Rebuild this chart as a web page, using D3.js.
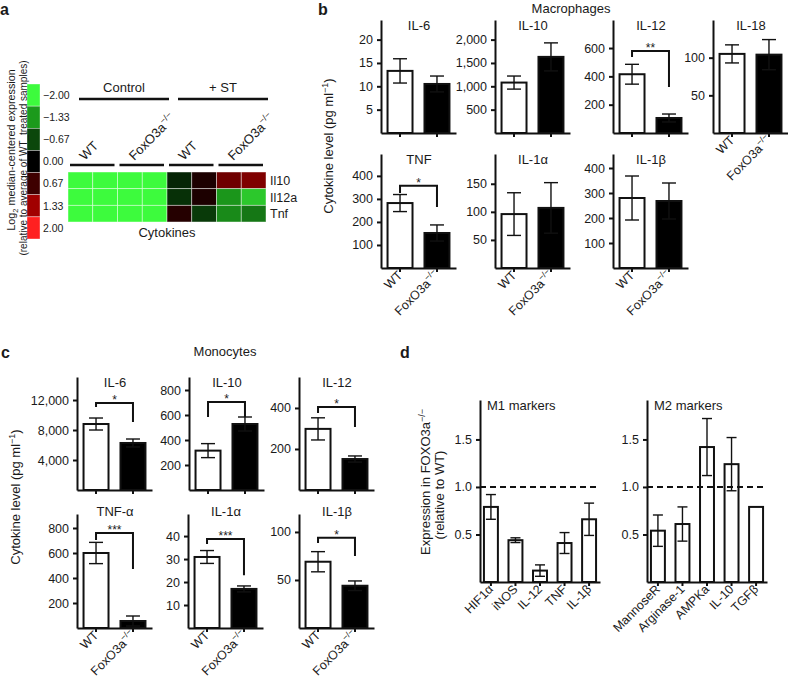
<!DOCTYPE html>
<html><head><meta charset="utf-8">
<script src="https://cdn.jsdelivr.net/npm/d3@7"></script>
<style>
body{margin:0;background:#fff}
svg{display:block}
text{font-family:"Liberation Sans",Arial,Helvetica,sans-serif;fill:#1a1a1a}
</style>
</head><body>
<svg id="chart" width="788" height="688"></svg>
<script>
// ================= DATA =================
const genotypes = ["WT", "FoxO3a"];

// Panel a: heatmap
const heatRows = ["Il10", "Il12a", "Tnf"];
const heatCols = ["ctrlWT1", "ctrlWT2", "ctrlKO1", "ctrlKO2", "stWT1", "stWT2", "stKO1", "stKO2"];
const heatIl10  = [-2, -2, -2, -2, -0.35, 0.3, 1.0, 1.1];
const heatIl12a = [-2, -2, -2, -2, -0.45, 0.3, -1.3, -1.65];
const heatTnf   = [-2, -2, -2, -2, 0.4, -0.55, -1.2, -1.05];
const heatGroupLabels = ["WT", "FoxO3a", "WT", "FoxO3a"];
const heatTreatments = ["Control", "+ ST"];
const legendValues = [-2.00, -1.33, -0.67, 0.00, 0.67, 1.33, 2.00];
const legendLabels = ["\u22122.00", "\u22121.33", "\u22120.67", "0.00", "0.67", "1.33", "2.00"];
const legendColors = ["#3dfb3d", "#1c9a1c", "#0b470b", "#000000", "#3e0000", "#a10000", "#ff2020"];

// Panel b: macrophages
const macroNames  = ["IL-6", "IL-10", "IL-12", "IL-18", "TNF", "IL-1\u03b1", "IL-1\u03b2"];
const macroWT     = [13.3, 1080, 415, 105, 282, 96, 280];
const macroWTErr  = [2.6, 140, 70, 12, 37, 38, 88];
const macroKO     = [10.5, 1630, 106, 104, 152, 107, 268];
const macroKOErr  = [1.7, 300, 28, 20, 35, 45, 72];
const macroMax    = [24.2, 2420, 798, 150, 495, 203, 456];
const macroTicks  = [[5, 10, 15, 20], [500, 1000, 1500, 2000], [200, 400, 600], [50, 100], [100, 200, 300, 400], [50, 100, 150], [100, 200, 300, 400]];
const macroSig      = ["", "", "**", "", "*", "", ""];
const macroSigLevel = [0, 0, 579, 0, 357, 0, 0];
const macroSigLeft  = [0, 0, 536, 0, 326, 0, 0];
const macroSigRight = [0, 0, 325, 0, 265, 0, 0];

// Panel c: monocytes
const monoNames  = ["IL-6", "IL-10", "IL-12", "TNF-\u03b1", "IL-1\u03b1", "IL-1\u03b2"];
const monoWT     = [8800, 315, 298, 600, 30.9, 69];
const monoWTErr  = [800, 56, 54, 85, 2.8, 10.5];
const monoKO     = [6270, 528, 151, 56, 17, 44];
const monoKOErr  = [530, 56, 15, 40, 1.3, 5];
const monoMax    = [15070, 904, 551, 912, 49.6, 118.7];
const monoTicks  = [[4000, 8000, 12000], [200, 400, 600, 800], [200, 400], [200, 400, 600, 800], [10, 20, 30, 40], [50, 100]];
const monoSig      = ["*", "*", "*", "***", "***", "*"];
const monoSigLevel = [11600, 704, 405, 760, 38.7, 94];
const monoSigLeft  = [11070, 584, 375, 704, 36.5, 88.5];
const monoSigRight = [9070, 584, 307, 472, 23, 75];

// Panel d: markers
const m1Markers = ["HIF1\u03b1", "iNOS", "IL-12", "TNF", "IL-1\u03b2"];
const m1Values  = [0.79, 0.44, 0.12, 0.41, 0.66];
const m1Err     = [0.13, 0.025, 0.06, 0.11, 0.17];
const m2Markers = ["MannoseR", "Arginase-1", "AMPKa", "IL-10", "TGF\u03b2"];
const m2Values  = [0.54, 0.61, 1.42, 1.24, 0.79];
const m2Err     = [0.165, 0.18, 0.30, 0.28, 0];
const dTicks = [0.5, 1.0, 1.5];
const dMax = 1.915;
const dReference = 1.0;

// ================= DRAWING =================
const svg = d3.select("#chart");
const FONT = '"Liberation Sans", Arial, Helvetica, sans-serif';
const INK = "#111";

function addText(g, x, y, s, fs, anchor, extra) {
  const t = g.append("text").attr("x", x).attr("y", y).attr("font-size", fs)
    .attr("text-anchor", anchor || "start").text(s);
  if (extra) extra(t);
  return t;
}
function genoText(t, name, fs) {
  if (name === "FoxO3a") {
    t.append("tspan").text("FoxO3a");
    t.append("tspan").attr("dy", -fs * 0.42).attr("font-size", fs * 0.68).text("\u2212/\u2212");
  } else {
    t.append("tspan").text(name);
  }
}
function styleAxis(sel, fs) {
  sel.attr("font-family", FONT).attr("font-size", fs);
  sel.select(".domain").attr("stroke", INK).attr("stroke-width", 2);
  sel.selectAll(".tick line").attr("stroke", INK).attr("stroke-width", 2);
  sel.selectAll(".tick text").attr("fill", "#1a1a1a");
}

// ---- Panel letters ----
[["a", 0, 15], ["b", 318, 15], ["c", 1, 358], ["d", 400, 358]].forEach(([s, x, y]) =>
  addText(svg, x, y, s, 16, "start", t => t.attr("font-weight", "bold")));

// ---- Panel a ----
(function panelA() {
  const g = svg.append("g");
  // legend colourbar
  const ly = d3.scaleBand().domain(legendValues).range([84, 239]);
  legendValues.forEach((v, i) => {
    g.append("rect").attr("x", 27).attr("y", ly(v)).attr("width", 13).attr("height", ly.bandwidth())
      .attr("fill", legendColors[i]).attr("stroke", "rgba(255,255,255,0.6)").attr("stroke-width", 0.6);
    addText(g, 43, ly(v) + ly.bandwidth() / 2 + 3.8, legendLabels[i], 10.5);
  });
  // rotated legend title
  const t1 = g.append("text").attr("transform", "translate(15,150) rotate(-90)").attr("text-anchor", "middle").attr("font-size", 10.8);
  t1.append("tspan").text("Log");
  t1.append("tspan").attr("dy", 3).attr("font-size", 7.5).text("2");
  t1.append("tspan").attr("dy", -3).text(" median-centered expression");
  g.append("text").attr("transform", "translate(26.5,158) rotate(-90)").attr("text-anchor", "middle").attr("font-size", 10)
    .text("(relative to average of WT_treated samples)");

  // heatmap
  const hx = d3.scaleBand().domain(heatCols).range([68, 266]);
  const hy = d3.scaleBand().domain(heatRows).range([172, 222]);
  const color = d3.scaleLinear().domain(legendValues).range(legendColors).clamp(true);
  const heatData = [heatIl10, heatIl12a, heatTnf];
  heatRows.forEach((r, i) => heatCols.forEach((c, j) => {
    g.append("rect").attr("x", hx(c)).attr("y", hy(r)).attr("width", hx.bandwidth()).attr("height", hy.bandwidth())
      .attr("fill", color(heatData[i][j])).attr("stroke", "rgba(255,255,255,0.55)").attr("stroke-width", 0.8);
  }));
  heatRows.forEach(r => addText(g, 270, hy(r) + hy.bandwidth() / 2 + 4.5, r, 12.5));

  // genotype group bars and labels
  heatGroupLabels.forEach((lab, k) => {
    const xl = hx(heatCols[2 * k]), xr = hx(heatCols[2 * k + 1]) + hx.bandwidth();
    g.append("line").attr("x1", xl + 2).attr("x2", xr - 3).attr("y1", 165).attr("y2", 165)
      .attr("stroke", INK).attr("stroke-width", 2.5);
    const t = g.append("text").attr("transform", `translate(${(xl + xr) / 2 - 8},161) rotate(-45)`).attr("font-size", 13);
    genoText(t, lab, 13);
  });
  // treatment bars
  heatTreatments.forEach((lab, k) => {
    const xl = hx(heatCols[4 * k]) + 11, xr = hx(heatCols[4 * k + 3]) + hx.bandwidth() + 2;
    g.append("line").attr("x1", xl).attr("x2", xr).attr("y1", 99).attr("y2", 99)
      .attr("stroke", INK).attr("stroke-width", 2.5);
    addText(g, (xl + xr) / 2, 92, lab, 13, "middle");
  });
  addText(g, 167, 237, "Cytokines", 13, "middle");
})();

// ---- Generic two-bar plot ----
function barPlot(o) {
  const g = svg.append("g");
  const x = d3.scaleBand().domain(genotypes).range([o.x0, o.x0 + 75]).paddingInner(0.27).paddingOuter(0.15);
  const y = d3.scaleLinear().domain([0, o.max]).range([o.yZero, o.yTop]);
  const vals = [o.wt, o.ko], errs = [o.wtErr, o.koErr], fills = ["#fff", "#000"];
  genotypes.forEach((gn, i) => {
    g.append("rect").attr("x", x(gn) + 1).attr("y", y(vals[i])).attr("width", x.bandwidth() - 2)
      .attr("height", y(0) - y(vals[i])).attr("fill", fills[i]).attr("stroke", INK).attr("stroke-width", 2);
  });
  genotypes.forEach((gn, i) => {
    const cx = x(gn) + x.bandwidth() / 2;
    const hi = y(vals[i] + errs[i]), lo = y(Math.max(0, vals[i] - errs[i]));
    g.append("line").attr("x1", cx).attr("x2", cx).attr("y1", hi).attr("y2", lo).attr("stroke", INK).attr("stroke-width", 1.4);
    [hi, lo].forEach(yy => g.append("line").attr("x1", cx - 7).attr("x2", cx + 7).attr("y1", yy).attr("y2", yy)
      .attr("stroke", INK).attr("stroke-width", 1.4));
  });
  const ya = g.append("g").attr("transform", `translate(${o.x0},0)`)
    .call(d3.axisLeft(y).tickValues(o.ticks).tickSize(4).tickPadding(4).tickSizeOuter(0).tickFormat(d3.format(",")));
  styleAxis(ya, 12.5);
  const xa = g.append("g").attr("transform", `translate(0,${o.yZero})`)
    .call(d3.axisBottom(x).tickSize(4).tickSizeOuter(0).tickFormat(""));
  styleAxis(xa, 12.5);
  addText(g, o.x0 + 38, o.yTop + o.titleDy, o.title, 13, "middle");
  if (o.sig) {
    const c1 = x(genotypes[0]) + x.bandwidth() / 2, c2 = x(genotypes[1]) + x.bandwidth() / 2;
    g.append("path").attr("d", `M${c1},${y(o.sigLeft)}V${y(o.sigLevel)}H${c2}V${y(o.sigRight)}`)
      .attr("fill", "none").attr("stroke", INK).attr("stroke-width", 2);
    addText(g, (c1 + c2) / 2, y(o.sigLevel) + 1, o.sig, 12, "middle");
  }
  if (o.labels) {
    genotypes.forEach(gn => {
      const cx = x(gn) + x.bandwidth() / 2;
      const t = g.append("text").attr("transform", `translate(${cx + 3},${o.yZero + 8}) rotate(-45)`)
        .attr("text-anchor", "end").attr("font-size", 12.5);
      genoText(t, gn, 12.5);
    });
  }
}

// ---- Panel b ----
const macroLayout = [
  {x0: 381, yZero: 133, yTop: 20, titleDy: 10, labels: false},
  {x0: 495, yZero: 133, yTop: 20, titleDy: 10, labels: false},
  {x0: 613, yZero: 133, yTop: 20, titleDy: 10, labels: false},
  {x0: 713, yZero: 133, yTop: 20, titleDy: 10, labels: true},
  {x0: 381, yZero: 268, yTop: 154, titleDy: 10, labels: true},
  {x0: 495, yZero: 268, yTop: 154, titleDy: 10, labels: true},
  {x0: 613, yZero: 268, yTop: 154, titleDy: 10, labels: true}
];
macroNames.forEach((n, i) => barPlot(Object.assign({
  title: n, wt: macroWT[i], wtErr: macroWTErr[i], ko: macroKO[i], koErr: macroKOErr[i],
  max: macroMax[i], ticks: macroTicks[i], sig: macroSig[i],
  sigLevel: macroSigLevel[i], sigLeft: macroSigLeft[i], sigRight: macroSigRight[i]
}, macroLayout[i])));
addText(svg, 571, 13, "Macrophages", 13, "middle");
{
  const t = svg.append("text").attr("transform", "translate(333,146) rotate(-90)").attr("text-anchor", "middle").attr("font-size", 13);
  t.append("tspan").text("Cytokine level (pg ml");
  t.append("tspan").attr("dy", -5).attr("font-size", 9).text("\u22121");
  t.append("tspan").attr("dy", 5).text(")");
}

// ---- Panel c ----
const monoLayout = [
  {x0: 77, yZero: 490, yTop: 377, titleDy: 10, labels: false},
  {x0: 189, yZero: 490, yTop: 377, titleDy: 10, labels: false},
  {x0: 299, yZero: 490, yTop: 377, titleDy: 10, labels: false},
  {x0: 77, yZero: 628, yTop: 514, titleDy: 2, labels: true},
  {x0: 188, yZero: 628, yTop: 514, titleDy: 2, labels: true},
  {x0: 299, yZero: 628, yTop: 514, titleDy: 2, labels: true}
];
monoNames.forEach((n, i) => barPlot(Object.assign({
  title: n, wt: monoWT[i], wtErr: monoWTErr[i], ko: monoKO[i], koErr: monoKOErr[i],
  max: monoMax[i], ticks: monoTicks[i], sig: monoSig[i],
  sigLevel: monoSigLevel[i], sigLeft: monoSigLeft[i], sigRight: monoSigRight[i]
}, monoLayout[i])));
addText(svg, 225, 356, "Monocytes", 13, "middle");
{
  const t = svg.append("text").attr("transform", "translate(20,497) rotate(-90)").attr("text-anchor", "middle").attr("font-size", 13);
  t.append("tspan").text("Cytokine level (pg ml");
  t.append("tspan").attr("dy", -5).attr("font-size", 9).text("\u22121");
  t.append("tspan").attr("dy", 5).text(")");
}

// ---- Panel d ----
function markerPlot(o) {
  const g = svg.append("g");
  const x = d3.scaleBand().domain(o.names).range([o.x0, o.x0 + 120]).paddingInner(0.35).paddingOuter(0.12);
  const y = d3.scaleLinear().domain([0, dMax]).range([582, 400]);
  o.names.forEach((n, i) => {
    g.append("rect").attr("x", x(n) + 1).attr("y", y(o.values[i])).attr("width", x.bandwidth() - 2)
      .attr("height", y(0) - y(o.values[i])).attr("fill", "#fff").attr("stroke", INK).attr("stroke-width", 2);
  });
  g.append("line").attr("x1", o.x0).attr("x2", o.x0 + 120).attr("y1", y(dReference)).attr("y2", y(dReference))
    .attr("stroke", INK).attr("stroke-width", 2).attr("stroke-dasharray", "6,4");
  o.names.forEach((n, i) => {
    if (!o.err[i]) return;
    const cx = x(n) + x.bandwidth() / 2;
    const hi = y(o.values[i] + o.err[i]), lo = y(o.values[i] - o.err[i]);
    g.append("line").attr("x1", cx).attr("x2", cx).attr("y1", hi).attr("y2", lo).attr("stroke", INK).attr("stroke-width", 1.4);
    [hi, lo].forEach(yy => g.append("line").attr("x1", cx - 5).attr("x2", cx + 5).attr("y1", yy).attr("y2", yy)
      .attr("stroke", INK).attr("stroke-width", 1.4));
  });
  const ya = g.append("g").attr("transform", `translate(${o.x0},0)`)
    .call(d3.axisLeft(y).tickValues(dTicks).tickSize(4).tickPadding(4).tickSizeOuter(0).tickFormat(d3.format(".1f")));
  styleAxis(ya, 12.5);
  const xa = g.append("g").attr("transform", "translate(0,582)")
    .call(d3.axisBottom(x).tickSize(4).tickSizeOuter(0).tickFormat(""));
  styleAxis(xa, 12.5);
  o.names.forEach(n => {
    const cx = x(n) + x.bandwidth() / 2;
    g.append("text").attr("transform", `translate(${cx + 3},590) rotate(-45)`).attr("text-anchor", "end")
      .attr("font-size", 12.5).text(n);
  });
  addText(g, o.x0 + 7, 410, o.title, 13);
}
markerPlot({x0: 480, names: m1Markers, values: m1Values, err: m1Err, title: "M1 markers"});
markerPlot({x0: 647, names: m2Markers, values: m2Values, err: m2Err, title: "M2 markers"});
{
  const t = svg.append("text").attr("transform", "translate(430,482) rotate(-90)").attr("text-anchor", "middle").attr("font-size", 13);
  t.append("tspan").text("Expression in FOXO3a");
  t.append("tspan").attr("dy", -5).attr("font-size", 9).text("\u2212/\u2212");
  svg.append("text").attr("transform", "translate(444,495) rotate(-90)").attr("text-anchor", "middle").attr("font-size", 13)
    .text("(relative to WT)");
}
</script>
</body></html>
